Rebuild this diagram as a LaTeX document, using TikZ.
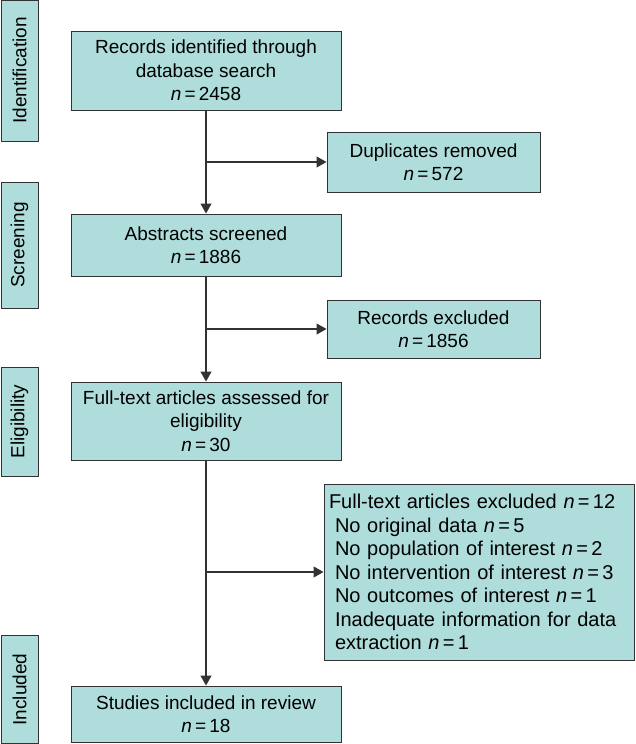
\documentclass[tikz,border=0pt]{standalone}
\usepackage{fontspec}
\setmainfont{Liberation Sans}
\usetikzlibrary{arrows.meta}
\definecolor{stagefill}{RGB}{174,221,219}
\definecolor{stageline}{RGB}{50,50,50}

\begin{document}
\begin{tikzpicture}[x=1pt, y=-1pt,
    specification/.style ={rectangle, draw=stageline, fill=stagefill, line width=1pt,
        inner sep=0pt, align=center, font=\fontsize{19}{23.5}\selectfont},
    phase/.style ={specification, rotate=90},
    excluded/.style ={specification, minimum width=213pt},
    flow/.style ={draw=stageline, line width=1.1pt, -{Triangle[length=10pt,width=11pt]}}]
   \useasboundingbox (0,0) rectangle (636,744);
   \node[phase, minimum width=141pt, minimum height=37pt] (I) at (19.5,70.5) {Identification};
   \node[phase, minimum width=126pt, minimum height=37pt] (S) at (19.5,245) {Screening};
   \node[phase, minimum width=109pt, minimum height=37pt] (E) at (19.5,421.5) {Eligibility};
   \node[phase, minimum width=108pt, minimum height=37pt] (N) at (19.5,689.5) {Included};
   \node[specification, minimum width=270pt, minimum height=79pt] (A) at (206,70.5)
      {Records identified through\\database search\\\textit{n}\,=\,2458};
   \node[specification, minimum width=270pt, minimum height=62pt] (B) at (206,245)
      {Abstracts screened\\\textit{n}\,=\,1886};
   \node[specification, minimum width=270pt, minimum height=78pt] (C) at (206,421)
      {Full-text articles assessed for\\eligibility\\\textit{n}\,=\,30};
   \node[specification, minimum width=270pt, minimum height=56pt] (D) at (206,714)
      {Studies included in review\\\textit{n}\,=\,18};
   \node[excluded, minimum height=60pt] (X) at (433.5,162)
      {Duplicates removed\\\textit{n}\,=\,572};
   \node[excluded, minimum height=58pt] (Y) at (433.5,329)
      {Records excluded\\\textit{n}\,=\,1856};
   \node[specification, minimum width=310pt, minimum height=176pt, text width=300pt,
      align=left, font=\fontsize{20}{23.5}\selectfont] (Z) at (479,572)
      {Full-text articles excluded \textit{n}\,=\,12\\
       \hspace*{6pt}No original data \textit{n}\,=\,5\\
       \hspace*{6pt}No population of interest \textit{n}\,=\,2\\
       \hspace*{6pt}No intervention of interest \textit{n}\,=\,3\\
       \hspace*{6pt}No outcomes of interest \textit{n}\,=\,1\\
       \hspace*{6pt}Inadequate information for data\\
       \hspace*{6pt}extraction \textit{n}\,=\,1};
   \coordinate (P) at (A.south |- X.west);
   \coordinate (Q) at (B.south |- Y.west);
   \coordinate (R) at (C.south |- Z.west);
   \draw[flow] (A) to (B);
   \draw[flow] (B) to (C);
   \draw[flow] (C) to (D);
   \draw[flow] (P) to (X);
   \draw[flow] (Q) to (Y);
   \draw[flow] (R) to (Z);
 \end{tikzpicture}
\end{document}
